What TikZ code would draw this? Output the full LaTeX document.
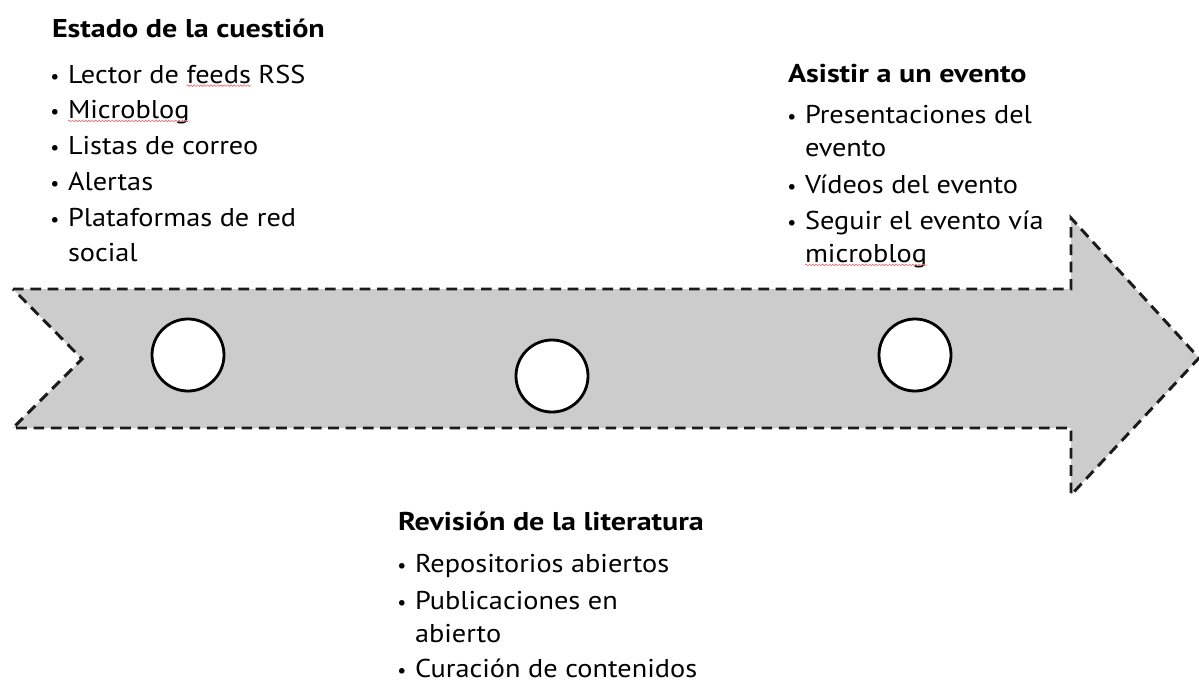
\documentclass[tikz,border=0pt]{standalone}
\usepackage{fontspec}
\setmainfont{PT Sans}
\newfontfamily\regf[FakeStretch=1.1]{PT Sans}
\newfontfamily\ttlf[FakeStretch=1.17]{PT Sans}
\usetikzlibrary{decorations.pathmorphing,shadows}
\definecolor{arrowfill}{HTML}{CCCCCC}
\definecolor{dashcol}{HTML}{1A1A1A}
\definecolor{sqred}{HTML}{E57373}
\begin{document}
\begin{tikzpicture}[x=0.75pt,y=-0.75pt,
  txt/.style={inner sep=0pt, outer sep=0pt, anchor=base west, font=\regf\fontsize{19.3}{23}\selectfont},
  ttl/.style={txt, font=\ttlf\bfseries\fontsize{19.3}{23}\selectfont},
  bul/.style={inner sep=0pt, outer sep=0pt, anchor=base, font=\fontsize{15}{20}\selectfont},
  ring/.style={circle, draw=black, line width=2.1pt, fill=white, minimum size=54pt, inner sep=0pt,
    drop shadow={opacity=0.18, shadow xshift=0pt, shadow yshift=-1.5pt}},
  band/.style={fill=arrowfill, draw=dashcol, line width=2.2pt, dash pattern=on 8pt off 5pt},
  squig/.style={draw=sqred, line width=0.5pt, decorate, decoration={snake, amplitude=0.6pt, segment length=2.5pt}}]
\useasboundingbox (0,0) rectangle (1199,682);
% arrow band
\path[band] (13,289) -- (1071,289) -- (1071,218) -- (1199,358) -- (1071,495)
  -- (1071,428) -- (13,428) -- (82,359) -- cycle;
% circles
\node[ring] (c1) at (188,355) {};
\node[ring] (c2) at (552,376) {};
\node[ring] (c3) at (915,355) {};
% left block
\node[ttl] (t1) at (52,37) {Estado de la cuestión};
\node[txt] (a1) at (68,83) {Lector de\ \mbox{}};
\node[txt] (a1w) at (a1.base east) {feeds};
\node[txt] (a1r) at (a1w.base east) {\mbox{}\ RSS};
\node[txt] (a2) at (68,118) {Microblog};
\node[txt] (a3) at (68,154) {Listas de correo};
\node[txt] (a4) at (68,190) {Alertas};
\node[txt] (a5) at (68,226) {Plataformas de red};
\node[txt] (a5b) at (68,261) {social};
\node[bul] (ba1) at (55,83) {•};
\node[bul] (ba2) at (55,118) {•};
\node[bul] (ba3) at (55,154) {•};
\node[bul] (ba4) at (55,190) {•};
\node[bul] (ba5) at (55,226) {•};
% right block
\node[ttl] (t3) at (788,82) {Asistir a un evento};
\node[txt] (r1) at (805,123) {Presentaciones del};
\node[txt] (r1b) at (805,156) {evento};
\node[txt] (r2) at (805,193) {Vídeos del evento};
\node[txt] (r3) at (805,229) {Seguir el evento vía};
\node[txt] (r3b) at (805,262) {microblog};
\node[bul] (br1) at (792,123) {•};
\node[bul] (br2) at (792,193) {•};
\node[bul] (br3) at (792,229) {•};
% bottom block
\node[ttl] (t2) at (398,530) {Revisión de la literatura};
\node[txt] (b1) at (415,572) {Repositorios abiertos};
\node[txt] (b2) at (415,609) {Publicaciones en};
\node[txt] (b2b) at (415,642) {abierto};
\node[txt] (b3) at (415,677) {Curación de contenidos};
\node[bul] (bb1) at (402,572) {•};
\node[bul] (bb2) at (402,609) {•};
\node[bul] (bb3) at (402,677) {•};
% spell-check squiggles
\draw[squig] ([yshift=-2pt]a1w.base west) -- ([yshift=-2pt]a1w.base east);
\draw[squig] ([yshift=-2.2pt]a2.base west) -- ([yshift=-2.2pt]a2.base east);
\draw[squig] ([yshift=-2.2pt]r3b.base west) -- ([yshift=-2.2pt]r3b.base east);
\end{tikzpicture}
\end{document}
